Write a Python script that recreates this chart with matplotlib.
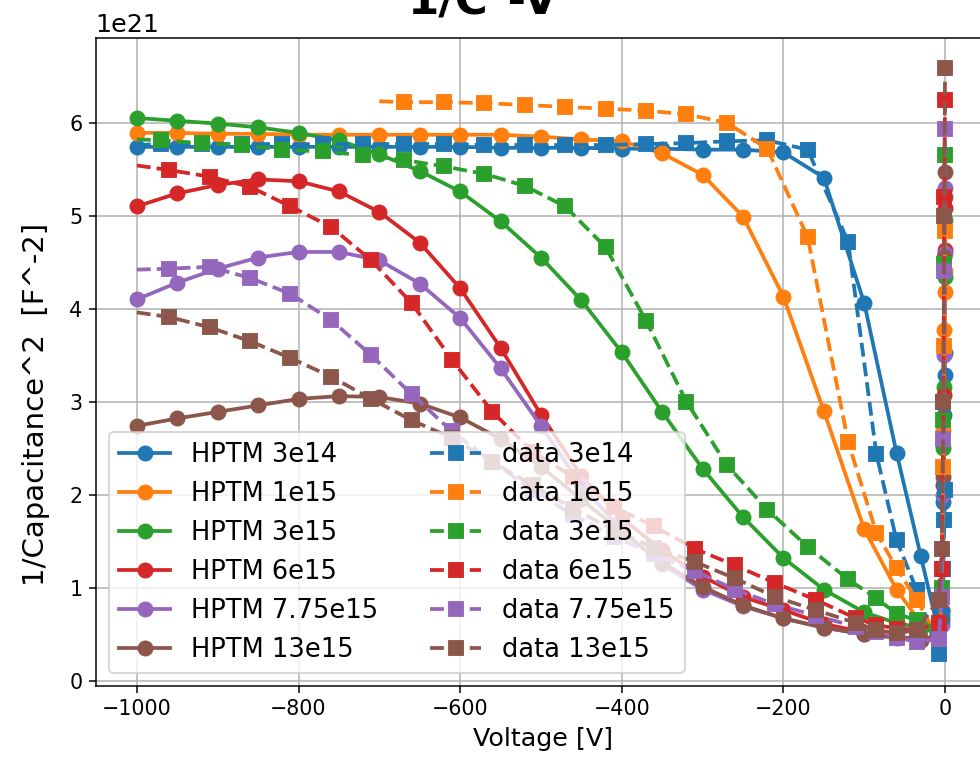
import matplotlib
matplotlib.use("Agg")
from matplotlib import pyplot as plt
import numpy as np

# HPTM simulation, voltages [V]
hptm_v = [-1000, -950, -900, -850, -800, -750, -700, -650, -600, -550, -500,
          -450, -400, -350, -300, -250, -200, -150, -100,
          -60, -30, -10, -4, -2, -1, -0.5, 0]

hptm_3e14 = [5.74, 5.74, 5.74, 5.74, 5.74, 5.74, 5.74, 5.74, 5.74, 5.73, 5.73,
             5.73, 5.72, 5.72, 5.71, 5.71, 5.68, 5.41, 4.06,
             2.45, 1.34, 0.60, 0.76, 1.92, 2.86, 3.29, 3.52]
hptm_1e15 = [5.89, 5.89, 5.88, 5.88, 5.87, 5.87, 5.87, 5.87, 5.87, 5.87, 5.85,
             5.82, 5.80, 5.67, 5.44, 4.99, 4.13, 2.90, 1.63,
             0.98, 0.62, 0.50, 0.75, 2.70, 3.77, 4.18, 4.40]
hptm_3e15 = [6.05, 6.02, 5.99, 5.95, 5.89, 5.81, 5.66, 5.48, 5.26, 4.94, 4.55,
             4.09, 3.53, 2.89, 2.28, 1.76, 1.32, 0.98, 0.735,
             0.62, 0.57, 0.52, 0.70, 2.50, 3.16, 4.34, 4.95]
hptm_6e15 = [5.10, 5.24, 5.33, 5.39, 5.37, 5.26, 5.04, 4.71, 4.22, 3.58, 2.86,
             2.20, 1.75, 1.40, 1.12, 0.90, 0.76, 0.61, 0.52,
             0.47, 0.45, 0.47, 0.65, 2.10, 3.07, 4.63, 5.08]
hptm_775e15 = [4.10, 4.28, 4.43, 4.55, 4.61, 4.61, 4.52, 4.27, 3.90, 3.36, 2.74,
               2.10, 1.62, 1.25, 0.98, 0.80, 0.67, 0.57, 0.50,
               0.47, 0.44, 0.46, 0.60, 2.00, 3.50, 4.60, 5.30]
hptm_13e15 = [2.74, 2.82, 2.89, 2.96, 3.03, 3.06, 3.05, 2.98, 2.83, 2.60, 2.30,
              1.95, 1.60, 1.27, 1.01, 0.81, 0.67, 0.57, 0.50,
              0.46, 0.44, 0.47, 0.75, 2.19, 4.56, 5.20, 5.47]

# measured data, voltages [V]
data_v_a = [-1000, -970, -920, -870, -820, -770, -720, -670, -620, -570, -520,
            -470, -420, -370, -320, -270, -220, -170, -120,
            -85, -60, -35, -8, -4, -2, -1, 0]
data_v_b = [-1000, -960, -910, -860, -810, -760, -710, -660, -610, -560, -510,
            -460, -410, -360, -310, -260, -210, -160, -110,
            -85, -60, -35, -8, -4, -2, -1, 0]
data_v_1e15 = [-700, -670, -620, -570, -520, -470, -420, -370, -320, -270,
               -220, -170, -120, -85, -60, -35, -8, -4, -2, -1, 0]

data_3e14 = [5.76, 5.77, 5.77, 5.77, 5.77, 5.77, 5.77, 5.77, 5.77, 5.76, 5.76,
             5.76, 5.76, 5.77, 5.78, 5.80, 5.81, 5.71, 4.72,
             2.44, 1.51, 0.975, 0.29, 0.70, 1.20, 1.73, 2.05]
data_1e15 = [6.23, 6.22, 6.22, 6.21, 6.19, 6.17, 6.15, 6.13, 6.09, 6.00,
             5.72, 4.77, 2.57, 1.59, 1.21, 0.87, 0.45, 0.90, 2.30, 3.60, 4.83]
data_3e15 = [5.82, 5.81, 5.78, 5.76, 5.71, 5.69, 5.65, 5.60, 5.53, 5.45, 5.32,
             5.10, 4.66, 3.87, 3.00, 2.32, 1.84, 1.44, 1.09,
             0.886, 0.72, 0.65, 0.55, 1.00, 2.80, 4.48, 5.65]
data_6e15 = [5.54, 5.49, 5.42, 5.31, 5.10, 4.88, 4.52, 4.06, 3.45, 2.89, 2.46,
             2.19, 1.87, 1.66, 1.42, 1.24, 1.05, 0.87, 0.67,
             0.60, 0.56, 0.55, 0.62, 1.20, 3.00, 5.20, 6.24]
data_775e15 = [4.42, 4.43, 4.45, 4.33, 4.16, 3.88, 3.50, 3.08, 2.68, 2.35, 2.05,
               1.78, 1.55, 1.36, 1.18, 0.98, 0.82, 0.70, 0.58,
               0.52, 0.46, 0.42, 0.45, 0.90, 2.60, 4.40, 5.93]
data_13e15 = [3.96, 3.91, 3.80, 3.65, 3.47, 3.27, 3.03, 2.80, 2.61, 2.35, 2.10,
              1.85, 1.62, 1.43, 1.28, 1.10, 0.90, 0.76, 0.62,
              0.545, 0.51, 0.545, 0.87, 1.42, 3.00, 5.00, 6.59]

labels = ["3e14", "1e15", "3e15", "6e15", "7.75e15", "13e15"]
hptm = [hptm_3e14, hptm_1e15, hptm_3e15, hptm_6e15, hptm_775e15, hptm_13e15]
data = [data_3e14, data_1e15, data_3e15, data_6e15, data_775e15, data_13e15]
data_v = [data_v_a, data_v_1e15, data_v_a, data_v_b, data_v_b, data_v_b]

scale = 1e21

fig = plt.figure(figsize=(980 / 135, 767 / 135), dpi=135)
ax = fig.add_axes([0.0976, 0.1056, 0.9121, 0.8453])

for i in range(6):
    ax.plot(hptm_v, np.array(hptm[i]) * scale, "-o", color="C%d" % i,
            lw=2, ms=7.5, label="HPTM " + labels[i])
for i in range(6):
    ax.plot(data_v[i], np.array(data[i]) * scale, "--s", color="C%d" % i,
            lw=2, ms=7.5, markevery=slice(1, None), label="data " + labels[i])

ax.set_xlim(-1051, 55)
ax.set_ylim(-0.057e21, 6.914e21)
ax.grid(True)
ax.tick_params(labelsize=11)
ax.yaxis.get_offset_text().set_fontsize(13.5)
ax.set_xlabel("Voltage [V]", fontsize=13.5)
ax.set_ylabel("1/Capacitance^2  [F^-2]", fontsize=15.5)
ax.yaxis.set_label_coords(-0.051, 0.435)
ax.legend(loc="lower left", ncol=2, fontsize=13.75)

fig.text(483 / 980, (767 - 15) / 767, "1/C\u00b2-V", ha="center",
         va="baseline", fontsize=24, fontweight="bold")

fig.savefig("out.png", dpi=135)
